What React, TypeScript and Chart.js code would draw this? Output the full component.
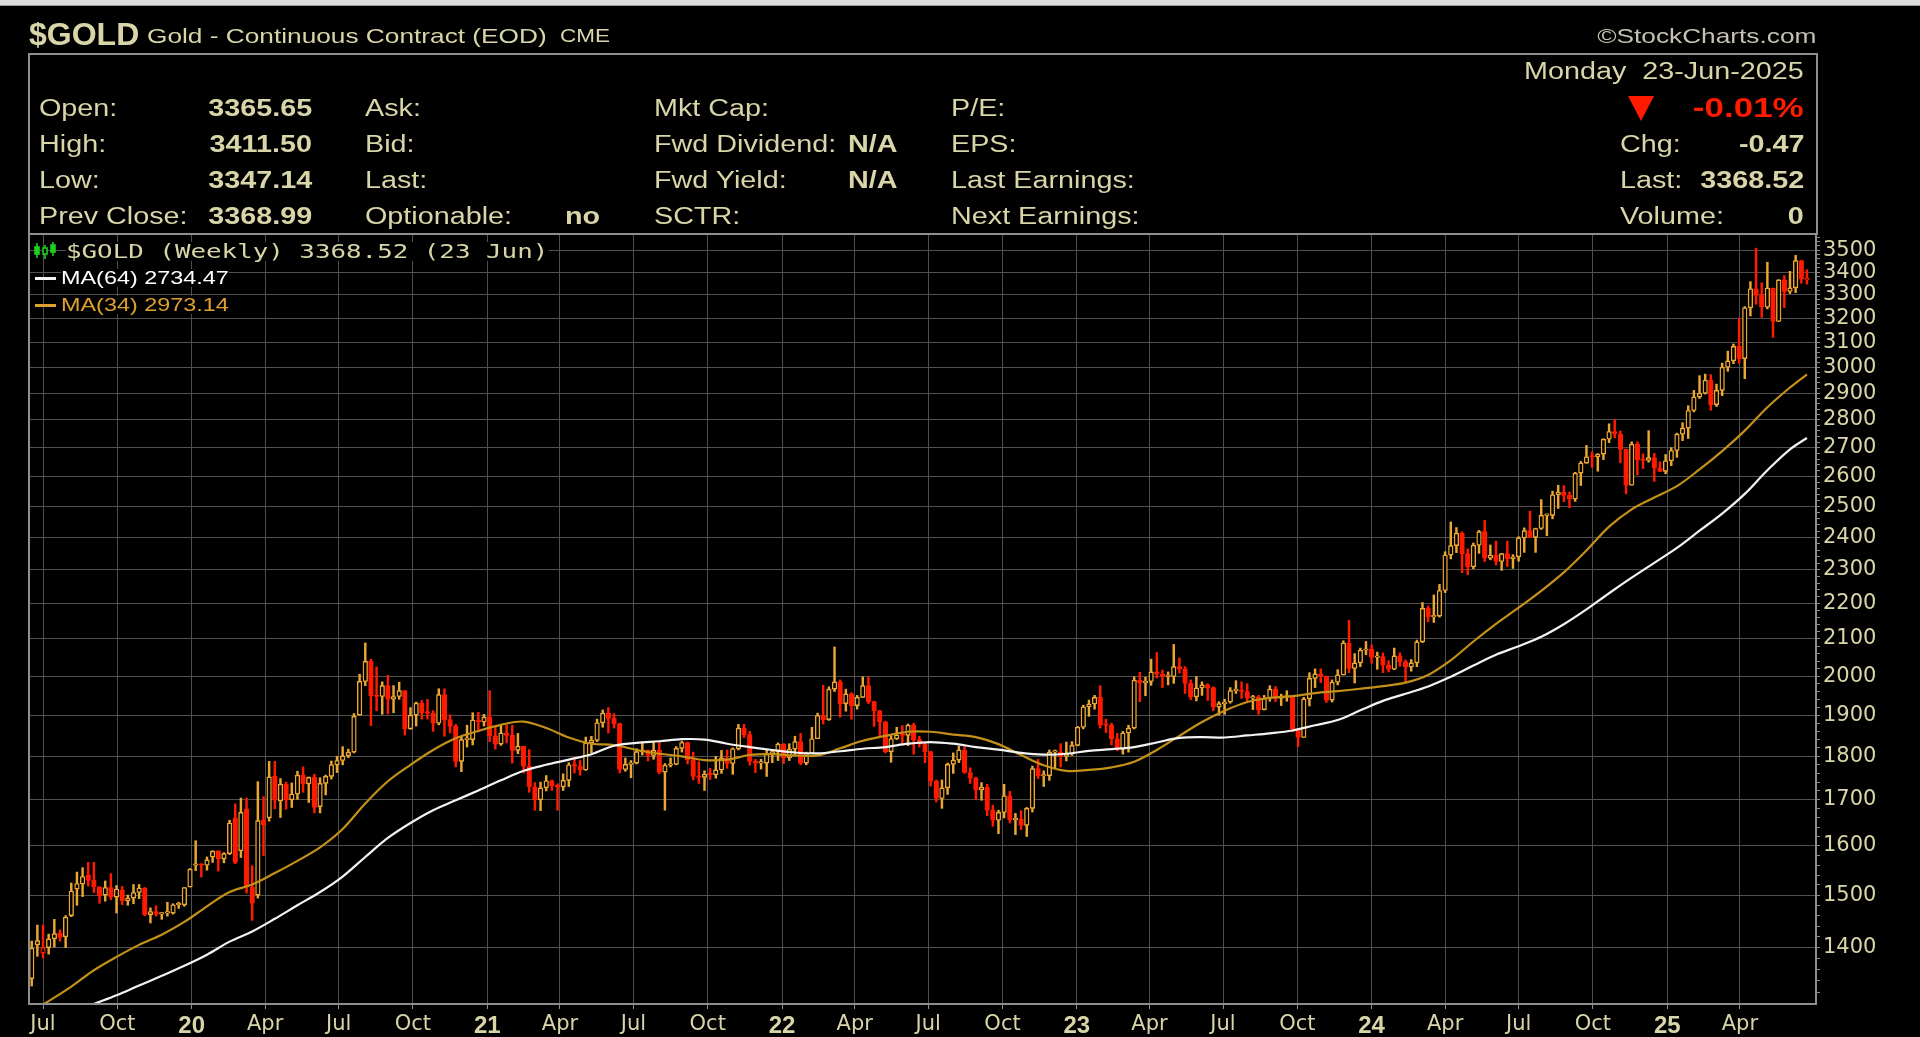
import React, { useEffect, useRef } from "react";
import { Chart, registerables } from "chart.js";
Chart.register(...registerables);

// ---- data (weekly, first bar = week of 17-Jun-2019) ----
const START_DATE = "2019-06-17";

const opens = [
  1344,1405,1390,1400,1416,1427,1420,1460,1512,1522,
  1540,1530,1516,1500,1515,1496,1510,1489,1494,1505,
  1514,1462,1468,1463,1465,1465,1481,1481,1516,1560,
  1562,1560,1577,1590,1573,1584,1660,1590,1680,1516,
  1500,1655,1660,1753,1698,1735,1700,1713,1756,1736,
  1751,1685,1737,1753,1780,1790,1801,1810,1900,1986,
  2040,1949,1947,1975,1940,1947,1962,1866,1900,1930,
  1906,1905,1880,1952,1889,1872,1788,1840,1840,1888,
  1883,1895,1849,1829,1856,1850,1814,1824,1777,1729,
  1700,1727,1743,1732,1729,1744,1780,1777,1768,1832,
  1838,1881,1905,1892,1879,1769,1781,1784,1811,1815,
  1802,1814,1763,1779,1781,1819,1833,1792,1753,1751,
  1758,1757,1768,1796,1783,1818,1868,1852,1788,1784,
  1784,1805,1811,1829,1797,1817,1835,1784,1807,1842,
  1899,1889,1966,1985,1929,1954,1924,1945,1975,1934,
  1911,1883,1811,1842,1851,1850,1875,1840,1830,1811,
  1742,1703,1727,1781,1791,1815,1762,1749,1722,1728,
  1677,1655,1672,1709,1656,1657,1644,1681,1771,1754,
  1755,1810,1810,1800,1805,1826,1870,1921,1928,1945,
  1876,1875,1842,1817,1856,1868,1989,1983,1986,2011,
  2005,1999,1999,2025,2019,1981,1946,1969,1977,1970,
  1920,1929,1933,1962,1962,1960,1943,1946,1914,1942,
  1966,1942,1945,1945,1866,1845,1941,1994,2006,2000,
  1938,1984,2003,2089,2020,2035,2069,2072,2050,2052,
  2029,2018,2054,2038,2024,2035,2092,2186,2162,2164,
  2238,2345,2374,2413,2349,2309,2375,2418,2335,2345,
  2325,2349,2334,2339,2398,2421,2400,2428,2470,2470,
  2538,2546,2536,2524,2611,2646,2668,2667,2677,2730,
  2758,2749,2694,2570,2712,2657,2655,2665,2628,2617,
  2654,2690,2748,2770,2835,2886,2900,2950,2857,2911,
  3001,3026,3084,3035,3245,3327,3298,3247,3330,3187,
  3366,3315,3331,3452,3365.65,
];

const highs = [
  1412,1442,1442,1425,1453,1433,1460,1524,1546,1555,
  1566,1566,1517,1528,1543,1519,1517,1500,1521,1521,
  1515,1475,1479,1466,1486,1483,1486,1515,1553,1611,
  1563,1577,1590,1590,1586,1655,1691,1704,1704,1559,
  1741,1707,1788,1788,1748,1740,1738,1765,1775,1752,
  1758,1750,1756,1789,1800,1823,1817,1904,2005,2089,
  2045,2024,1985,2002,1975,1984,1962,1919,1933,1937,
  1940,1911,1967,1967,1901,1877,1848,1875,1906,1907,
  1902,1962,1870,1875,1876,1875,1855,1824,1816,1739,
  1740,1755,1745,1736,1759,1785,1798,1790,1846,1848,
  1890,1913,1919,1904,1880,1796,1790,1818,1834,1815,
  1836,1834,1783,1796,1823,1836,1834,1810,1787,1766,
  1772,1800,1814,1815,1820,1877,1877,1860,1793,1793,
  1815,1816,1832,1830,1830,1848,1855,1810,1870,1905,
  1976,1972,2078,1990,1966,1957,1950,1998,1998,1935,
  1912,1885,1849,1870,1874,1878,1880,1848,1831,1812,
  1745,1745,1784,1808,1824,1823,1773,1751,1739,1735,
  1688,1677,1735,1719,1670,1676,1683,1777,1793,1766,
  1815,1815,1830,1834,1835,1872,1925,1938,1950,1975,
  1890,1880,1855,1860,1875,1998,2010,1997,2045,2063,
  2016,2011,2085,2048,2025,1990,1999,1985,1980,1972,
  1934,1940,1970,1988,1985,1980,1950,1950,1950,1975,
  1973,1953,1962,1947,1867,1945,2009,2019,2019,2000,
  1990,2017,2095,2152,2060,2075,2093,2084,2064,2062,
  2041,2075,2062,2043,2044,2097,2203,2193,2225,2256,
  2355,2449,2431,2417,2364,2382,2422,2454,2376,2388,
  2350,2388,2346,2402,2430,2484,2429,2522,2475,2550,
  2570,2569,2547,2614,2652,2708,2685,2679,2732,2786,
  2801,2760,2695,2721,2721,2678,2761,2680,2650,2676,
  2700,2752,2790,2853,2911,2968,2974,2972,2935,3017,
  3065,3094,3201,3250,3358,3509,3353,3445,3330,3367,
  3385,3404,3476,3453,3411.5,
];

const lows = [
  1331,1384,1381,1388,1401,1412,1400,1458,1480,1497,
  1518,1505,1484,1488,1491,1465,1481,1480,1483,1493,
  1460,1446,1459,1453,1459,1463,1474,1478,1516,1549,
  1536,1550,1566,1548,1565,1582,1563,1576,1504,1451,
  1494,1580,1653,1680,1661,1679,1683,1701,1717,1694,
  1671,1671,1711,1747,1762,1780,1797,1808,1900,1975,
  1874,1911,1902,1903,1906,1940,1851,1865,1873,1890,
  1890,1860,1876,1848,1856,1775,1764,1822,1827,1859,
  1873,1835,1817,1826,1832,1784,1806,1761,1717,1677,
  1676,1720,1721,1677,1721,1730,1761,1756,1767,1808,
  1835,1870,1856,1868,1761,1765,1750,1782,1803,1789,
  1793,1759,1677,1775,1780,1810,1782,1745,1737,1721,
  1746,1749,1760,1772,1758,1815,1845,1779,1762,1770,
  1753,1785,1790,1783,1790,1805,1780,1780,1807,1842,
  1878,1887,1960,1895,1910,1890,1915,1945,1929,1872,
  1850,1808,1786,1840,1828,1825,1805,1822,1785,1731,
  1695,1681,1712,1760,1785,1760,1737,1700,1699,1665,
  1642,1626,1660,1649,1624,1635,1620,1673,1748,1730,
  1744,1773,1775,1789,1802,1825,1866,1897,1915,1868,
  1857,1827,1813,1805,1810,1866,1934,1949,1976,1995,
  1970,1977,1981,2008,1955,1939,1936,1950,1937,1911,
  1900,1902,1930,1955,1942,1932,1914,1902,1913,1935,
  1934,1924,1935,1859,1823,1845,1923,1970,1983,1932,
  1933,1977,2003,2009,1982,2025,2057,2034,2018,2009,
  2011,2017,2026,1984,2013,2025,2090,2148,2146,2161,
  2232,2333,2352,2291,2285,2303,2350,2325,2330,2314,
  2298,2310,2304,2326,2353,2400,2353,2425,2405,2459,
  2493,2515,2495,2516,2569,2645,2631,2618,2658,2718,
  2735,2647,2541,2570,2605,2627,2649,2583,2616,2609,
  2637,2666,2725,2733,2830,2880,2897,2836,2850,2891,
  2985,3015,3016,2956,3210,3260,3204,3240,3121,3187,
  3246,3306,3310,3351,3347.14,
];

const closes = [
  1399,1413,1400,1416,1426,1419,1457,1508,1523,1537,
  1529,1516,1499,1515,1497,1512,1489,1494,1505,1514,
  1462,1468,1463,1465,1465,1481,1481,1515,1552,1562,
  1560,1571,1589,1573,1584,1649,1566,1672,1516,1484,
  1654,1645,1752,1699,1735,1700,1713,1756,1735,1751,
  1683,1737,1753,1780,1790,1801,1810,1897,1986,2039,
  1949,1947,1975,1940,1947,1962,1866,1900,1930,1906,
  1905,1880,1952,1889,1872,1788,1840,1840,1888,1883,
  1895,1849,1829,1856,1850,1814,1824,1777,1729,1700,
  1727,1743,1732,1729,1744,1780,1777,1768,1832,1838,
  1881,1905,1892,1879,1769,1781,1784,1811,1815,1802,
  1814,1763,1779,1781,1819,1833,1792,1753,1751,1758,
  1757,1768,1796,1783,1818,1868,1852,1788,1784,1784,
  1805,1811,1829,1797,1817,1835,1784,1807,1842,1899,
  1889,1966,1985,1929,1954,1924,1945,1975,1934,1911,
  1883,1811,1842,1851,1850,1875,1840,1830,1811,1742,
  1703,1727,1781,1791,1815,1762,1749,1722,1728,1677,
  1655,1672,1709,1656,1657,1644,1681,1771,1754,1755,
  1810,1810,1800,1805,1826,1870,1921,1928,1945,1876,
  1875,1842,1817,1856,1868,1989,1983,1986,2011,2005,
  1999,1999,2025,2019,1981,1946,1969,1977,1970,1920,
  1929,1933,1962,1962,1960,1943,1946,1914,1942,1966,
  1942,1945,1945,1866,1845,1941,1994,2006,2000,1938,
  1984,2003,2089,2020,2035,2069,2072,2050,2052,2029,
  2018,2054,2038,2024,2035,2092,2186,2162,2164,2238,
  2345,2374,2413,2349,2309,2375,2418,2335,2345,2325,
  2349,2334,2339,2398,2421,2400,2428,2470,2470,2538,
  2546,2536,2524,2611,2646,2668,2667,2677,2730,2758,
  2749,2694,2570,2712,2657,2655,2665,2628,2617,2654,
  2690,2748,2770,2835,2886,2900,2950,2857,2911,3001,
  3026,3084,3035,3245,3327,3298,3247,3330,3187,3366,
  3315,3331,3452,3369,3368.52,
];

// moving averages read at every 4th week (week index from first bar)
const maWeeks = [
  -1,3,7,11,15,19,23,27,31,35,39,43,47,51,55,59,63,67,71,75,
  79,83,87,91,95,99,103,107,111,115,119,123,127,131,135,139,143,147,151,155,
  159,163,167,171,175,179,183,187,191,195,199,203,207,211,215,219,223,227,231,235,
  239,243,247,251,255,259,263,267,271,275,279,283,287,291,295,299,303,307,311,314,
];
const ma34 = [
  1283,1305,1330,1359,1383,1405,1424,1448,1478,1506,1521,1544,1569,1597,1636,1692,1742,1780,1815,1843,
  1861,1876,1884,1868,1845,1830,1827,1815,1806,1800,1791,1792,1803,1805,1802,1802,1819,1837,1849,1859,
  1859,1852,1846,1829,1803,1779,1766,1768,1774,1787,1815,1849,1883,1911,1933,1944,1948,1956,1961,1967,
  1974,1983,2003,2042,2093,2142,2188,2237,2292,2359,2434,2490,2529,2567,2624,2688,2761,2847,2922,2973.14,
];
const ma64 = [
  1272,1276,1285,1300,1315,1332,1349,1367,1387,1411,1430,1454,1480,1506,1537,1577,1617,1649,1677,1699,
  1721,1744,1766,1780,1792,1805,1825,1832,1836,1841,1840,1830,1822,1815,1809,1807,1812,1818,1822,1830,
  1834,1830,1822,1816,1808,1804,1806,1813,1817,1822,1833,1844,1846,1845,1850,1855,1862,1875,1888,1912,
  1936,1954,1973,1998,2028,2057,2080,2106,2141,2183,2230,2276,2321,2367,2421,2476,2541,2621,2694,2734.47,
];

const yTickValues = [1400,1500,1600,1700,1800,1900,2000,2100,2200,2300,2400,2500,2600,2700,2800,2900,3000,3100,3200,3300,3400,3500];

const xTickDates = [
  "2019-07-01","2019-10-01","2020-01-01","2020-04-01","2020-07-01","2020-10-01",
  "2021-01-01","2021-04-01","2021-07-01","2021-10-01","2022-01-01","2022-04-01",
  "2022-07-01","2022-10-01","2023-01-01","2023-04-01","2023-07-01","2023-10-01",
  "2024-01-01","2024-04-01","2024-07-01","2024-10-01","2025-01-01","2025-04-01",
];
const xTickLabels = [
  "Jul","Oct","20","Apr","Jul","Oct","21","Apr","Jul","Oct","22","Apr",
  "Jul","Oct","23","Apr","Jul","Oct","24","Apr","Jul","Oct","25","Apr",
];

// ---- styling ----
const BEIGE = "#d8d5a8";
const GOLD = "#eaa832";
const RED = "#ff1a00";
const MA34_COLOR = "#c39118";
const MA64_COLOR = "#f2f2f2";
const GRID = "#4f4f4f";
const FRAME = "#8e8e8e";
const SANS = "'Liberation Sans', Arial, sans-serif";

function weeksFromStart(d: string): number {
  const t0 = Date.parse(START_DATE + "T00:00:00Z");
  const t = Date.parse(d + "T00:00:00Z");
  return (t - t0) / (7 * 86400000);
}

const framePlugin = {
  id: "frame",
  afterDraw(chart: any) {
    const { ctx, chartArea } = chart;
    ctx.save();
    ctx.strokeStyle = FRAME;
    ctx.lineWidth = 2;
    ctx.strokeRect(chartArea.left, chartArea.top, chartArea.right - chartArea.left, chartArea.bottom - chartArea.top);
    ctx.restore();
  },
};

type TP = {
  x: number; y: number; t: string; size: number; bold?: boolean; color?: string;
  right?: boolean; sx?: number; family?: string; bg?: string;
};
function Txt({ x, y, t, size, bold, color = BEIGE, right, sx = 1.25, family = SANS, bg }: TP) {
  const style: React.CSSProperties = {
    position: "absolute",
    top: y - size * 0.49,
    fontSize: size,
    lineHeight: size + "px",
    fontFamily: family,
    fontWeight: bold ? 700 : 400,
    color,
    whiteSpace: "pre",
    transform: `scaleX(${sx})`,
    transformOrigin: right ? "right center" : "left center",
    background: bg,
  };
  if (right) style.right = 1920 - x;
  else style.left = x;
  return <div style={style}>{t}</div>;
}

export default function App() {
  const ref = useRef<HTMLCanvasElement | null>(null);

  useEffect(() => {
    const canvas = ref.current;
    if (!canvas) return;

    const n = closes.length;
    const lineColor: string[] = [];
    const bodyFill: string[] = [];
    for (let i = 0; i < n; i++) {
      const prev = i === 0 ? opens[0] : closes[i - 1];
      const c = closes[i] < prev ? RED : GOLD;
      lineColor.push(c);
      bodyFill.push(closes[i] < opens[i] ? c : "#000000");
    }

    const yAll: number[] = [];
    for (let v = 1320; v <= 3560; v += 20) yAll.push(v);

    const chart = new Chart(canvas, {
      type: "bar",
      data: {
        datasets: [
          {
            type: "line",
            label: "MA(64)",
            data: maWeeks.map((w, i) => ({ x: w, y: ma64[i] })),
            borderColor: MA64_COLOR,
            borderWidth: 2.2,
            pointRadius: 0,
            tension: 0.35,
            order: 0,
          } as any,
          {
            type: "line",
            label: "MA(34)",
            data: maWeeks.map((w, i) => ({ x: w, y: ma34[i] })),
            borderColor: MA34_COLOR,
            borderWidth: 2.2,
            pointRadius: 0,
            tension: 0.35,
            order: 0,
          } as any,
          {
            type: "bar",
            label: "body",
            data: opens.map((o, i) => ({ x: i, y: [o, closes[i]] })),
            backgroundColor: bodyFill,
            borderColor: lineColor,
            borderWidth: 1.4,
            borderSkipped: false,
            barThickness: 4.6,
            grouped: false,
            minBarLength: 1.5,
            order: 1,
          } as any,
          {
            type: "bar",
            label: "wick",
            data: lows.map((l, i) => ({ x: i, y: [l, highs[i]] })),
            backgroundColor: lineColor,
            borderWidth: 0,
            barThickness: 1.8,
            grouped: false,
            order: 2,
          } as any,
        ],
      },
      options: {
        responsive: false,
        animation: false,
        events: [],
        layout: { padding: { left: 29, top: 234, right: 0, bottom: 0 } },
        plugins: {
          legend: { display: false },
          tooltip: { enabled: false },
          title: { display: false },
        },
        scales: {
          x: {
            type: "linear",
            position: "bottom",
            min: -0.48,
            max: 315.6,
            offset: false,
            border: { display: false },
            grid: { color: GRID, lineWidth: 1, tickLength: 5, tickColor: FRAME, offset: false },
            afterBuildTicks: (s: any) => {
              s.ticks = xTickDates.map((d) => ({ value: weeksFromStart(d) }));
            },
            afterFit: (s: any) => {
              s.height = 33;
            },
            ticks: {
              autoSkip: false,
              maxRotation: 0,
              minRotation: 0,
              padding: 3,
              color: BEIGE,
              callback: (_v: any, i: number) => xTickLabels[i],
              font: (ctx: any) =>
                /^\d+$/.test(xTickLabels[ctx.index] || "")
                  ? { family: SANS, size: 24, weight: "bold" }
                  : { family: "'DejaVu Sans', sans-serif", size: 21 },
            },
          } as any,
          y: {
            type: "logarithmic",
            position: "right",
            min: 1300,
            max: 3575,
            border: { display: false },
            grid: {
              color: (ctx: any) =>
                ctx.tick && yTickValues.includes(ctx.tick.value) ? GRID : "rgba(0,0,0,0)",
              tickColor: FRAME,
              tickLength: 4,
              lineWidth: 1,
            },
            afterBuildTicks: (s: any) => {
              s.ticks = yAll.map((v) => ({ value: v }));
            },
            afterFit: (s: any) => {
              s.width = 104;
            },
            ticks: {
              autoSkip: false,
              padding: 3,
              color: BEIGE,
              font: { family: "'DejaVu Sans', sans-serif", size: 21 },
              callback: (v: any) => (yTickValues.includes(Number(v)) ? String(v) : ""),
            },
          } as any,
        },
      },
      plugins: [framePlugin],
    });

    return () => chart.destroy();
  }, []);

  return (
    <div
      style={{
        position: "fixed",
        left: 0,
        top: 0,
        width: 1920,
        height: 1037,
        background: "#000",
        overflow: "hidden",
        fontFamily: SANS,
      }}
    >
      <div style={{ position: "absolute", left: 0, top: 0, width: 1920, height: 5, background: "#dedede" }} />
      <div style={{ position: "absolute", left: 0, top: 5, width: 1920, height: 1, background: "#9a9a9a" }} />

      <canvas
        ref={ref}
        width={1920}
        height={1037}
        style={{ position: "absolute", left: 0, top: 0, width: 1920, height: 1037 }}
      />

      {/* title row */}
      <Txt x={29} y={34} t="$GOLD" size={32} bold sx={1.0} />
      <Txt x={147} y={35} t="Gold - Continuous Contract (EOD)" size={21} />
      <Txt x={560} y={36} t="CME" size={18} />
      <Txt x={1816} y={35} t="©StockCharts.com" size={21} right color="#c4c2b0" />

      {/* header box */}
      <div
        style={{
          position: "absolute",
          left: 28,
          top: 53,
          width: 1790,
          height: 182,
          border: `2px solid ${FRAME}`,
          boxSizing: "border-box",
        }}
      />
      <Txt x={1804} y={71} t="Monday  23-Jun-2025" size={23} right />

      <Txt x={39} y={108} t="Open:" size={23} />
      <Txt x={39} y={144.5} t="High:" size={23} />
      <Txt x={39} y={180} t="Low:" size={23} />
      <Txt x={39} y={216.5} t="Prev Close:" size={23} />
      <Txt x={312} y={108} t="3365.65" size={23} bold right />
      <Txt x={312} y={144.5} t="3411.50" size={23} bold right />
      <Txt x={312} y={180} t="3347.14" size={23} bold right />
      <Txt x={312} y={216.5} t="3368.99" size={23} bold right />

      <Txt x={365} y={108} t="Ask:" size={23} />
      <Txt x={365} y={144.5} t="Bid:" size={23} />
      <Txt x={365} y={180} t="Last:" size={23} />
      <Txt x={365} y={216.5} t="Optionable:" size={23} />
      <Txt x={600} y={216.5} t="no" size={23} bold right />

      <Txt x={654} y={108} t="Mkt Cap:" size={23} />
      <Txt x={654} y={144.5} t="Fwd Dividend:" size={23} />
      <Txt x={654} y={180} t="Fwd Yield:" size={23} />
      <Txt x={654} y={216.5} t="SCTR:" size={23} />
      <Txt x={898} y={144.5} t="N/A" size={23} bold right />
      <Txt x={898} y={180} t="N/A" size={23} bold right />

      <Txt x={951} y={108} t="P/E:" size={23} />
      <Txt x={951} y={144.5} t="EPS:" size={23} />
      <Txt x={951} y={180} t="Last Earnings:" size={23} />
      <Txt x={951} y={216.5} t="Next Earnings:" size={23} />

      <div
        style={{
          position: "absolute",
          left: 1628,
          top: 96,
          width: 0,
          height: 0,
          borderLeft: "13px solid transparent",
          borderRight: "13px solid transparent",
          borderTop: `25px solid ${RED}`,
        }}
      />
      <Txt x={1804} y={108} t="-0.01%" size={28} bold right color={RED} />
      <Txt x={1620} y={144.5} t="Chg:" size={23} />
      <Txt x={1804} y={144.5} t="-0.47" size={23} bold right />
      <Txt x={1620} y={180} t="Last:" size={23} />
      <Txt x={1804} y={180} t="3368.52" size={23} bold right />
      <Txt x={1620} y={216.5} t="Volume:" size={23} />
      <Txt x={1804} y={216.5} t="0" size={23} bold right />

      {/* in-chart legend */}
      <svg width={24} height={18} style={{ position: "absolute", left: 34, top: 242 }}>
        <g stroke="#1fcf1f" fill="#1fcf1f" strokeWidth={1.6}>
          <line x1={3} y1={1} x2={3} y2={16} />
          <rect x={1} y={5} width={4} height={7} />
          <line x1={11} y1={3} x2={11} y2={17} />
          <rect x={9} y={6} width={4} height={6} fill="#000" />
          <line x1={19} y1={0} x2={19} y2={14} />
          <rect x={17} y={3} width={4} height={7} />
        </g>
      </svg>
      <Txt x={66} y={251} t="$GOLD (Weekly) 3368.52 (23 Jun)" size={19} sx={1.36}
        family="'DejaVu Sans Mono', monospace" bg="#000" />
      <div style={{ position: "absolute", left: 35, top: 277, width: 21, height: 3, background: MA64_COLOR }} />
      <Txt x={61} y={278} t="MA(64) 2734.47" size={18} sx={1.3} color="#ffffff" bg="#000" />
      <div style={{ position: "absolute", left: 35, top: 304, width: 21, height: 3, background: "#e0a030" }} />
      <Txt x={61} y={305} t="MA(34) 2973.14" size={18} sx={1.3} color="#e0a030" bg="#000" />
    </div>
  );
}
